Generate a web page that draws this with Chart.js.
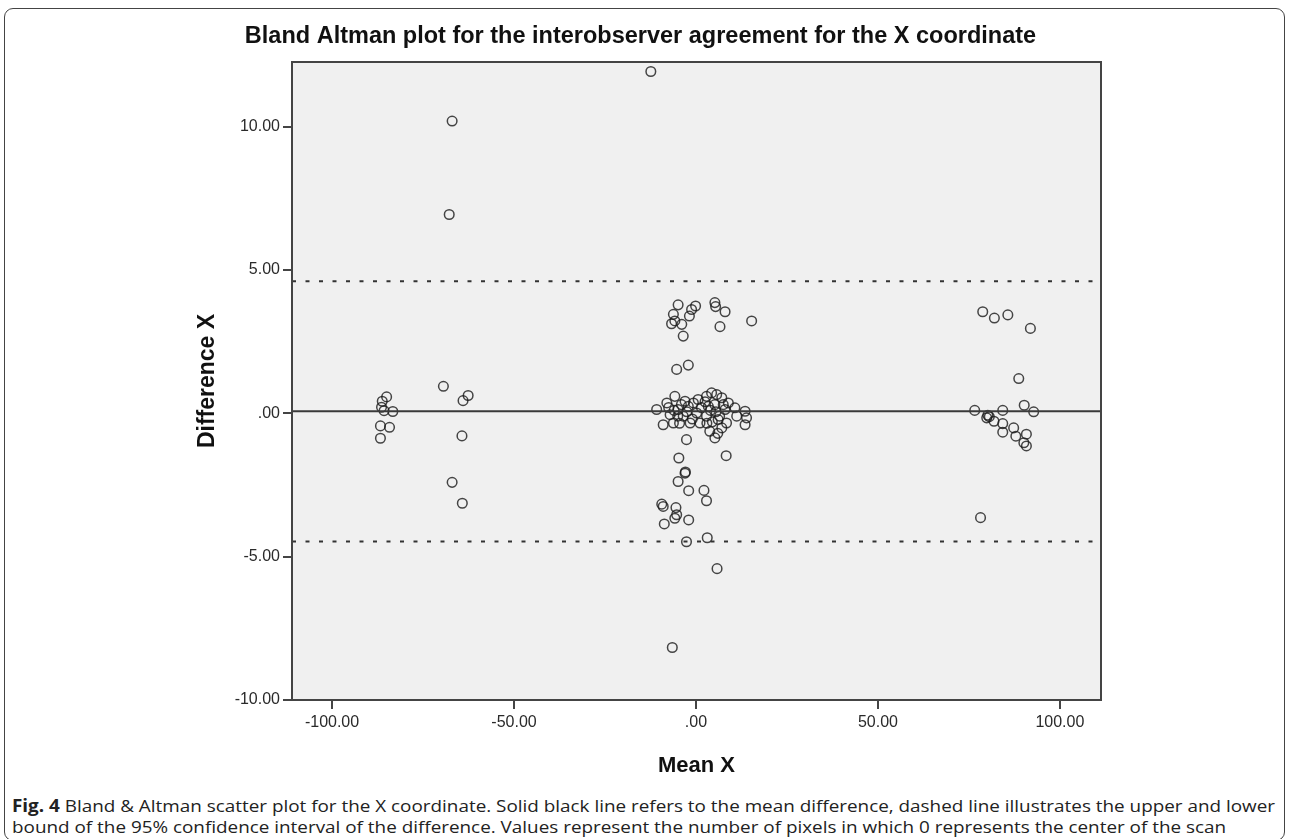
<!DOCTYPE html>
<html>
<head>
<meta charset="utf-8">
<script src="https://cdn.jsdelivr.net/npm/chart.js"></script>
<style>
    body { margin: 0; background: #fff; width: 1290px; height: 839px; overflow: hidden; position: relative; }
    #marco { position: absolute; left: 4px; top: 8px; width: 1281px; height: 833px; border: 1px solid #444; border-radius: 9px; box-sizing: border-box; }
    #caja { position: absolute; left: 0; top: 0; width: 1290px; height: 790px; }
    .pie { position: absolute; left: 12px; white-space: nowrap; font-family: "Open Sans", "Noto Sans", sans-serif; font-size: 17px; line-height: 22px; color: #222; transform-origin: left center; }
</style>
</head>
<body>
<div id="marco"></div>
<div id="caja"><canvas id="blandAltmanChart"></canvas></div>
<div class="pie" id="pie1" style="top:795px"><b>Fig. 4</b> Bland &amp; Altman scatter plot for the X coordinate. Solid black line refers to the mean difference, dashed line illustrates the upper and lower</div>
<div class="pie" id="pie2" style="top:816px">bound of the 95% confidence interval of the difference. Values represent the number of pixels in which 0 represents the center of the scan</div>
<script>
// Datos: media (eje X) y diferencia (eje Y) de cada punto
const meanX = [
    -12.4, -67.0, -67.8,
    -85.0, -86.2, -86.4, -85.7, -83.3, -86.7, -84.2, -86.7,
    -69.4, -62.6, -64.0, -64.3, -67.0, -64.2,
    78.8, 82.0, 85.7, 91.9, 88.7, 76.6, 84.3, 90.2, 92.8, 80.2, 80.6, 79.9, 81.9, 84.3, 87.3, 84.3, 87.9, 90.8, 90.1, 90.8, 78.2,
    -4.9, -6.2, -6.7, -5.8, -3.9, -3.5, -1.8, -1.2, -0.1, 5.2, 5.4, 8.0, 6.6, 15.3, -5.3, -2.1,
    -10.8, -8.0, -5.8, -9.0, -6.2, -7.1, -4.9, -3.0, -2.1, -0.7, -3.5, -1.6, 0.2, 1.1, 2.9, 4.3, 5.7, 7.1,
    3.4, 5.2, 8.0, 2.9, 6.1, 3.8, 5.2, 7.1, 8.4, 10.7, 11.2, 13.5, 13.9, 13.5, -2.6, 8.9, 0.6,
    -6.0, -5.0, -4.0, -2.5, -1.0, 1.5, 2.5, 4.5, 5.5, 6.5, 4.0, 3.0, 6.0, 7.5, -7.5, -4.5,
    -4.7, -3.0, -2.9, -4.9, -2.0, 2.2, 2.9, 8.3, -9.4, -9.0, -5.5, -5.3, -5.8, -2.0, -8.7, -2.6, 3.1, 5.8, -6.5
];
const diffX = [
    11.92, 10.19, 6.93,
    0.57, 0.42, 0.21, 0.09, 0.06, -0.44, -0.49, -0.87,
    0.94, 0.62, 0.44, -0.79, -2.41, -3.14,
    3.54, 3.32, 3.43, 2.96, 1.21, 0.10, 0.10, 0.28, 0.05, -0.07, -0.12, -0.16, -0.28, -0.36, -0.51, -0.66, -0.80, -0.73, -1.03, -1.14, -3.64,
    3.78, 3.45, 3.12, 3.22, 3.10, 2.69, 3.39, 3.62, 3.74, 3.86, 3.72, 3.54, 3.02, 3.22, 1.53, 1.68,
    0.13, 0.36, 0.59, -0.40, -0.34, -0.05, 0.13, 0.42, 0.24, 0.36, -0.10, -0.34, 0.01, -0.34, 0.59, 0.71, 0.65, 0.54,
    0.24, 0.30, 0.13, -0.10, -0.22, -0.63, -0.86, -0.51, -0.34, 0.19, -0.10, 0.07, -0.16, -0.40, -0.92, 0.36, 0.48,
    0.10, -0.10, 0.30, 0.05, -0.20, 0.20, 0.40, -0.30, 0.05, -0.10, 0.10, -0.35, -0.70, 0.30, 0.20, -0.35,
    -1.56, -2.09, -2.05, -2.38, -2.70, -2.69, -3.05, -1.48, -3.17, -3.25, -3.29, -3.54, -3.66, -3.72, -3.86, -4.48, -4.34, -5.42, -8.17
];

// Media de la diferencia y limites del 95%
const meanDiff = 0.07;
const upperLimit = 4.6;
const lowerLimit = -4.47;

// Rangos y marcas de los ejes
const xRange = [-111, 111.3];
const yRange = [-10, 12.25];
const xTicks = [-100, -50, 0, 50, 100];
const yTicks = [-10, -5, 0, 5, 10];

// Formato estilo SPSS: ".00", "5.00", "-10.00"
function formato(v) {
    return v === 0 ? '.00' : v.toFixed(2);
}

function lineaHorizontal(y) {
    return [{ x: xRange[0], y: y }, { x: xRange[1], y: y }];
}

// Fondo gris y marco del area del grafico
const fondoPlot = {
    id: 'fondoPlot',
    beforeDraw(chart) {
        const { ctx, chartArea: { left, top, width, height } } = chart;
        ctx.save();
        ctx.fillStyle = '#f0f0f0';
        ctx.fillRect(left, top, width, height);
        ctx.restore();
    },
    afterDraw(chart) {
        const { ctx, chartArea: { left, top, width, height } } = chart;
        ctx.save();
        ctx.strokeStyle = '#444';
        ctx.lineWidth = 2;
        ctx.strokeRect(left, top, width, height);
        ctx.restore();
    }
};

const tickFont = { family: 'Liberation Sans', size: 16 };

const ctx = document.getElementById('blandAltmanChart').getContext('2d');
new Chart(ctx, {
    type: 'scatter',
    data: {
        datasets: [
            {
                type: 'line',
                data: lineaHorizontal(meanDiff),
                borderColor: '#3a3a3a',
                borderWidth: 2,
                pointRadius: 0
            },
            {
                type: 'line',
                data: lineaHorizontal(upperLimit),
                borderColor: '#333',
                borderWidth: 2,
                borderDash: [4, 9.5],
                pointRadius: 0
            },
            {
                type: 'line',
                data: lineaHorizontal(lowerLimit),
                borderColor: '#333',
                borderWidth: 2,
                borderDash: [4, 9.5],
                pointRadius: 0
            },
            {
                data: meanX.map((x, i) => ({ x: x, y: diffX[i] })),
                backgroundColor: 'rgba(0,0,0,0)',
                borderColor: 'rgba(25,25,25,0.8)',
                borderWidth: 1.5,
                pointRadius: 4.8,
                pointHoverRadius: 4.8
            }
        ]
    },
    options: {
        responsive: true,
        maintainAspectRatio: false,
        animation: false,
        events: [],
        layout: { padding: { left: 180, right: 189, top: 0, bottom: 0 } },
        plugins: {
            legend: { display: false },
            tooltip: { enabled: false },
            title: {
                display: true,
                text: 'Bland Altman plot for the interobserver agreement for the X coordinate',
                font: { family: 'Liberation Sans', size: 23.5, weight: 'bold' },
                color: '#111',
                padding: { top: 22, bottom: 11.8 }
            }
        },
        scales: {
            x: {
                type: 'linear',
                min: xRange[0],
                max: xRange[1],
                afterBuildTicks: (s) => { s.ticks = xTicks.map(v => ({ value: v })); },
                afterFit: (s) => { s.height = 90; },
                border: { display: false },
                grid: { display: true, drawOnChartArea: false, drawTicks: true, tickLength: 9, color: '#444', lineWidth: 2 },
                ticks: { font: tickFont, color: '#2a2a2a', padding: 4, maxRotation: 0, callback: formato },
                title: { display: true, text: 'Mean X', font: { family: 'Liberation Sans', size: 22, weight: 'bold' }, color: '#111', padding: { top: 4, bottom: 10.8 } }
            },
            y: {
                type: 'linear',
                min: yRange[0],
                max: yRange[1],
                afterBuildTicks: (s) => { s.ticks = yTicks.map(v => ({ value: v })); },
                afterFit: (s) => { s.width = 112; },
                border: { display: false },
                grid: { display: true, drawOnChartArea: false, drawTicks: true, tickLength: 9, color: '#444', lineWidth: 2 },
                ticks: { font: tickFont, color: '#2a2a2a', padding: 3, callback: formato },
                title: { display: true, text: 'Difference X', font: { family: 'Liberation Sans', size: 23, weight: 'bold' }, color: '#111', padding: { top: 14.2, bottom: 4 } }
            }
        }
    },
    plugins: [fondoPlot]
});

// Ajustar el ancho del pie de figura (fuente estrecha en el original)
function ajustarPie() {
    const p1 = document.getElementById('pie1');
    const p2 = document.getElementById('pie2');
    p1.style.transform = 'none';
    p2.style.transform = 'none';
    const k = 1263 / p1.getBoundingClientRect().width;
    p1.style.transform = 'scaleX(' + k + ')';
    p2.style.transform = 'scaleX(' + k + ')';
}
ajustarPie();
if (document.fonts && document.fonts.ready) document.fonts.ready.then(ajustarPie);
</script>
</body>
</html>
